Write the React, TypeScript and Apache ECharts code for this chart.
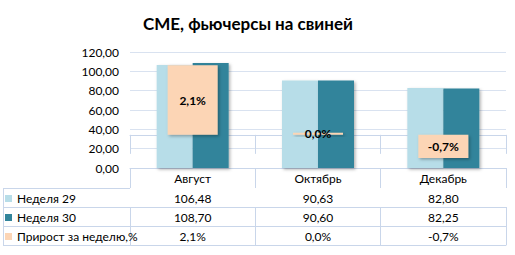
import React, { useEffect, useRef } from "react";
import * as echarts from "echarts";

const title = "CME, фьючерсы на свиней";
const categories = ["Август", "Октябрь", "Декабрь"];
const seriesNames = ["Неделя 29", "Неделя 30", "Прирост за неделю,%"];
const week29 = [106.48, 90.63, 82.8];
const week30 = [108.7, 90.6, 82.25];
const growth = [2.1, 0.0, -0.7];
const yMin = 0;
const yMax = 120;
const yStep = 20;
const growthMin = -1;
const growthMax = 2.5;

const fmt2 = (v: number) => v.toFixed(2).replace(".", ",");
const fmtPct = (v: number) => v.toFixed(1).replace(".", ",") + "%";

const FONT = "Lato";
const BORDER = "#c9d6ea";
const GRIDC = "#d9e2f0";
const C1 = "#b7dde8";
const C2 = "#31849b";
const C3 = "#fcd5b5";

const ROW_OFFSETS = [0, 20, 39, 58];
const ROW_H = 19;

function tableAxis(data: string[], offset: number, tickLen: number, showLabel = true) {
  return {
    type: "category",
    position: "bottom",
    offset,
    data,
    boundaryGap: true,
    axisLine: { show: true, lineStyle: { color: BORDER, width: 1 } },
    axisTick: { show: tickLen > 0, interval: 0, length: tickLen, lineStyle: { color: BORDER, width: 1 } },
    axisLabel: {
      show: showLabel,
      interval: 0,
      margin: 4,
      fontSize: 12,
      fontWeight: 400,
      color: "#000",
      textBorderWidth: 0,
      textShadowBlur: 0,
      fontFamily: FONT,
    },
    splitLine: { show: false },
  };
}

export default function App() {
  const ref = useRef<HTMLDivElement>(null);
  useEffect(() => {
    if (!ref.current) return;
    const chart = echarts.init(ref.current, undefined, { renderer: "svg" });
    const shadow = {
      shadowColor: "rgba(0,0,0,0.3)",
      shadowBlur: 3,
      shadowOffsetX: 1.5,
      shadowOffsetY: 1.5,
    };
    const leftLines = [188.5, 207.5, 226.5, 245.5].map((y) => ({
      type: "line",
      shape: { x1: 3, y1: y, x2: 130, y2: y },
      style: { stroke: BORDER, lineWidth: 1 },
      silent: true,
    }));
    chart.setOption({
      animation: false,
      textStyle: { fontFamily: FONT },
      title: {
        text: title,
        left: 143,
        top: 15,
        padding: 0,
        textStyle: { fontSize: 17, fontWeight: "bold", color: "#000", fontFamily: FONT },
      },
      legend: {
        orient: "vertical",
        left: 5,
        top: 189,
        padding: 0,
        itemGap: 0,
        itemWidth: 7,
        itemHeight: 7,
        icon: "rect",
        selectedMode: false,
        data: seriesNames,
        textStyle: { fontSize: 12, lineHeight: 19, color: "#000", fontFamily: FONT },
      },
      grid: { left: 130, right: 9, top: 52, bottom: 87 },
      xAxis: [
        tableAxis(categories, ROW_OFFSETS[0], 20),
        tableAxis(week29.map(fmt2), ROW_OFFSETS[1], ROW_H),
        tableAxis(week30.map(fmt2), ROW_OFFSETS[2], ROW_H),
        tableAxis(growth.map(fmtPct), ROW_OFFSETS[3], ROW_H),
        tableAxis(growth.map(fmtPct), 77, 0, false),
      ],
      yAxis: [
        {
          type: "value",
          min: yMin,
          max: yMax,
          interval: yStep,
          axisLine: { show: false },
          axisTick: { show: false },
          axisLabel: { formatter: (v: number) => fmt2(v), margin: 11, fontSize: 12, color: "#000", fontFamily: FONT },
          splitLine: { show: true, lineStyle: { color: GRIDC, width: 1 } },
        },
        {
          type: "value",
          min: growthMin,
          max: growthMax,
          show: false,
          splitLine: { show: false },
        },
      ],
      series: [
        {
          name: seriesNames[0],
          type: "bar",
          xAxisIndex: 0,
          yAxisIndex: 0,
          data: week29,
          barWidth: 36,
          barGap: "0%",
          itemStyle: { color: C1, ...shadow },
        },
        {
          name: seriesNames[1],
          type: "bar",
          xAxisIndex: 0,
          yAxisIndex: 0,
          data: week30,
          barWidth: 36,
          barGap: "0%",
          itemStyle: { color: C2, ...shadow },
        },
        {
          name: seriesNames[2],
          type: "bar",
          xAxisIndex: 1,
          yAxisIndex: 1,
          data: growth,
          barWidth: 50,
          barMinHeight: 2,
          itemStyle: { color: C3, ...shadow },
          label: {
            show: true,
            position: "inside",
            formatter: (p: any) => fmtPct(p.value),
            fontSize: 12,
            fontWeight: "bold",
            color: "#000",
            fontFamily: FONT,
          },
        },
      ],
      graphic: [
        ...leftLines,
        {
          type: "line",
          shape: { x1: 3.5, y1: 188.5, x2: 3.5, y2: 245.5 },
          style: { stroke: BORDER, lineWidth: 1 },
          silent: true,
        },
      ],
    });
    return () => chart.dispose();
  }, []);
  return (
    <div
      ref={ref}
      style={{ position: "fixed", left: 0, top: 0, width: 515, height: 255, background: "#fff" }}
    />
  );
}
